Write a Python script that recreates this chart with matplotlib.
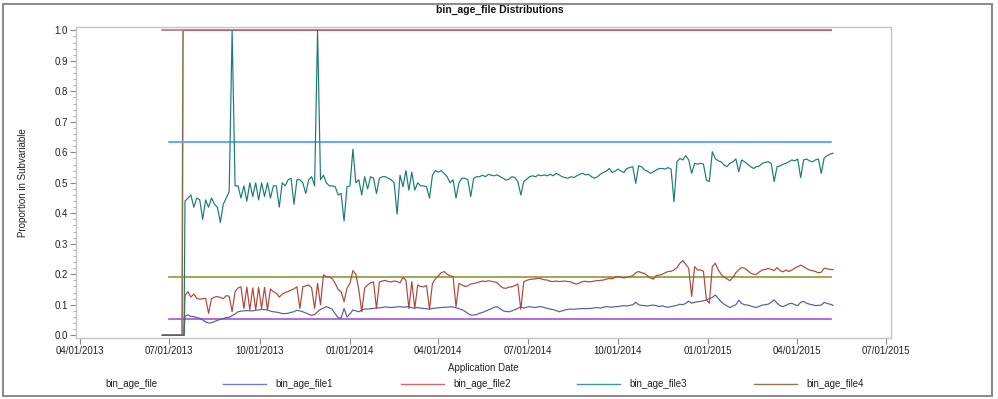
import matplotlib
matplotlib.use("Agg")
import matplotlib.pyplot as plt
import matplotlib.dates as mdates
from matplotlib.lines import Line2D
from matplotlib.patches import Rectangle
from matplotlib.ticker import MultipleLocator, FormatStrFormatter
import pandas as pd

plt.rcParams['font.family'] = ['Liberation Sans', 'DejaVu Sans']

title = "bin_age_file Distributions"
x_label = "Application Date"
y_label = "Proportion in Subvariable"
legend_title = "bin_age_file"
series_names = ["bin_age_file1", "bin_age_file2", "bin_age_file3", "bin_age_file4"]
series_colors = ["#4f5fa3", "#b0463a", "#1a7c70", "#8a6a44"]

tick_dates = ["2013-04-01", "2013-07-01", "2013-10-01", "2014-01-01", "2014-04-01",
              "2014-07-01", "2014-10-01", "2015-01-01", "2015-04-01", "2015-07-01"]
tick_labels = ["04/01/2013", "07/01/2013", "10/01/2013", "01/01/2014", "04/01/2014",
               "07/01/2014", "10/01/2014", "01/01/2015", "04/01/2015", "07/01/2015"]

# zero lead-in before the distributions begin
lead_dates = ["2013-06-24", "2013-07-16"]
lead_values = [0.0, 0.0]

# sampled every 3 days starting here
sample_start = "2013-07-17"
sample_step_days = 3

file1 = [
    0.062, 0.067, 0.062, 0.061, 0.058, 0.056, 0.050, 0.044, 0.040, 0.041,
    0.045, 0.049, 0.052, 0.055, 0.058, 0.059, 0.064, 0.070, 0.077, 0.079,
    0.080, 0.081, 0.080, 0.080, 0.082, 0.083, 0.085, 0.084, 0.083, 0.079,
    0.077, 0.076, 0.074, 0.071, 0.071, 0.072, 0.075, 0.077, 0.082, 0.080,
    0.077, 0.073, 0.069, 0.065, 0.068, 0.077, 0.085, 0.089, 0.094, 0.090,
    0.085, 0.070, 0.058, 0.056, 0.088, 0.060, 0.070, 0.083, 0.080, 0.077,
    0.083, 0.086, 0.086, 0.087, 0.088, 0.089, 0.090, 0.091, 0.093, 0.092,
    0.091, 0.092, 0.093, 0.094, 0.092, 0.093, 0.094, 0.090, 0.089, 0.091,
    0.089, 0.088, 0.087, 0.086, 0.088, 0.089, 0.090, 0.091, 0.092, 0.092,
    0.093, 0.093, 0.090, 0.087, 0.084, 0.079, 0.072, 0.066, 0.066, 0.068,
    0.072, 0.075, 0.079, 0.083, 0.087, 0.092, 0.093, 0.087, 0.080, 0.078,
    0.077, 0.080, 0.084, 0.088, 0.094, 0.089, 0.092, 0.094, 0.092, 0.091,
    0.093, 0.094, 0.091, 0.088, 0.086, 0.084, 0.081, 0.077, 0.080, 0.083,
    0.085, 0.086, 0.085, 0.086, 0.087, 0.088, 0.087, 0.088, 0.088, 0.090,
    0.091, 0.089, 0.092, 0.094, 0.093, 0.092, 0.094, 0.094, 0.096, 0.097,
    0.096, 0.098, 0.100, 0.108, 0.100, 0.098, 0.097, 0.096, 0.098, 0.099,
    0.097, 0.094, 0.097, 0.093, 0.092, 0.094, 0.096, 0.098, 0.102, 0.100,
    0.105, 0.112, 0.105, 0.108, 0.110, 0.111, 0.113, 0.116, 0.120, 0.124,
    0.132, 0.121, 0.110, 0.102, 0.096, 0.091, 0.096, 0.100, 0.115, 0.104,
    0.100, 0.099, 0.096, 0.093, 0.091, 0.095, 0.099, 0.100, 0.102, 0.108,
    0.116, 0.105, 0.097, 0.094, 0.098, 0.103, 0.105, 0.100, 0.097, 0.108,
    0.111, 0.105, 0.102, 0.100, 0.097, 0.098, 0.099, 0.108, 0.104, 0.102,
    0.098,
]

file2 = [
    0.130, 0.143, 0.125, 0.135, 0.121, 0.118, 0.120, 0.121, 0.072, 0.120,
    0.125, 0.127, 0.124, 0.120, 0.130, 0.128, 0.077, 0.143, 0.155, 0.159,
    0.088, 0.158, 0.083, 0.155, 0.083, 0.157, 0.088, 0.157, 0.083, 0.152,
    0.143, 0.138, 0.125, 0.135, 0.140, 0.143, 0.148, 0.152, 0.159, 0.088,
    0.159, 0.162, 0.165, 0.155, 0.088, 0.170, 0.100, 0.198, 0.192, 0.192,
    0.185, 0.170, 0.150, 0.143, 0.110, 0.155, 0.170, 0.212, 0.200, 0.150,
    0.077, 0.155, 0.165, 0.172, 0.175, 0.088, 0.175, 0.178, 0.180, 0.176,
    0.175, 0.178, 0.176, 0.172, 0.190, 0.180, 0.088, 0.176, 0.088, 0.165,
    0.160, 0.159, 0.163, 0.085, 0.170, 0.185, 0.195, 0.205, 0.209, 0.200,
    0.195, 0.192, 0.094, 0.170, 0.165, 0.160, 0.162, 0.168, 0.170, 0.172,
    0.175, 0.178, 0.176, 0.179, 0.177, 0.175, 0.172, 0.162, 0.155, 0.154,
    0.158, 0.159, 0.163, 0.168, 0.085, 0.175, 0.180, 0.183, 0.184, 0.185,
    0.187, 0.185, 0.182, 0.181, 0.177, 0.176, 0.178, 0.176, 0.177, 0.178,
    0.176, 0.175, 0.170, 0.168, 0.172, 0.176, 0.177, 0.175, 0.176, 0.178,
    0.179, 0.180, 0.181, 0.184, 0.186, 0.185, 0.190, 0.193, 0.190, 0.188,
    0.190, 0.193, 0.195, 0.205, 0.209, 0.205, 0.203, 0.195, 0.188, 0.184,
    0.196, 0.197, 0.200, 0.205, 0.209, 0.210, 0.214, 0.222, 0.236, 0.245,
    0.232, 0.220, 0.127, 0.225, 0.214, 0.214, 0.210, 0.116, 0.105, 0.225,
    0.236, 0.215, 0.200, 0.190, 0.185, 0.179, 0.190, 0.205, 0.215, 0.222,
    0.220, 0.212, 0.204, 0.200, 0.200, 0.208, 0.214, 0.216, 0.219, 0.216,
    0.212, 0.222, 0.212, 0.208, 0.214, 0.209, 0.214, 0.220, 0.225, 0.230,
    0.225, 0.219, 0.214, 0.212, 0.209, 0.205, 0.207, 0.220, 0.218, 0.216,
    0.215,
]

file3 = [
    0.440, 0.450, 0.460, 0.420, 0.450, 0.444, 0.380, 0.444, 0.420, 0.450,
    0.430, 0.420, 0.370, 0.430, 0.450, 0.470, 1.000, 0.490, 0.490, 0.450,
    0.490, 0.440, 0.500, 0.455, 0.500, 0.444, 0.500, 0.455, 0.500, 0.450,
    0.490, 0.490, 0.420, 0.500, 0.490, 0.510, 0.515, 0.430, 0.510, 0.510,
    0.500, 0.465, 0.510, 0.520, 0.490, 1.000, 0.510, 0.525, 0.500, 0.490,
    0.490, 0.487, 0.460, 0.465, 0.375, 0.487, 0.490, 0.610, 0.500, 0.510,
    0.460, 0.520, 0.480, 0.520, 0.515, 0.465, 0.515, 0.520, 0.520, 0.515,
    0.510, 0.500, 0.397, 0.525, 0.487, 0.540, 0.476, 0.535, 0.476, 0.500,
    0.490, 0.490, 0.487, 0.450, 0.525, 0.540, 0.535, 0.540, 0.530, 0.520,
    0.500, 0.510, 0.450, 0.500, 0.515, 0.515, 0.510, 0.455, 0.515, 0.520,
    0.520, 0.525, 0.520, 0.528, 0.525, 0.523, 0.526, 0.520, 0.515, 0.509,
    0.512, 0.520, 0.517, 0.504, 0.460, 0.504, 0.512, 0.520, 0.523, 0.520,
    0.526, 0.523, 0.526, 0.523, 0.528, 0.523, 0.531, 0.526, 0.520, 0.517,
    0.515, 0.520, 0.517, 0.523, 0.528, 0.531, 0.526, 0.528, 0.520, 0.515,
    0.520, 0.528, 0.534, 0.538, 0.547, 0.534, 0.538, 0.545, 0.538, 0.534,
    0.547, 0.550, 0.553, 0.498, 0.556, 0.553, 0.542, 0.538, 0.531, 0.536,
    0.542, 0.547, 0.547, 0.545, 0.550, 0.545, 0.438, 0.569, 0.580, 0.575,
    0.589, 0.575, 0.531, 0.564, 0.561, 0.564, 0.561, 0.509, 0.504, 0.602,
    0.580, 0.572, 0.569, 0.558, 0.553, 0.564, 0.569, 0.578, 0.536, 0.575,
    0.569, 0.561, 0.553, 0.547, 0.553, 0.555, 0.564, 0.567, 0.569, 0.564,
    0.504, 0.553, 0.555, 0.561, 0.564, 0.569, 0.575, 0.572, 0.578, 0.517,
    0.575, 0.578, 0.572, 0.569, 0.575, 0.578, 0.531, 0.582, 0.589, 0.594,
    0.597,
]

# bin_age_file4: zero, then a step to 1.0 that holds to the end
file4_dates = ["2013-06-24", "2013-07-14", "2013-07-15", "2015-05-06"]
file4_values = [0.0, 0.0, 1.0, 1.0]

# reference (baseline) levels drawn as flat lines
ref_levels = [1.0, 0.633, 0.19, 0.054]
ref_starts = ["2013-06-24", "2013-07-01", "2013-07-01", "2013-07-01"]
ref_end = "2015-05-06"
ref_colors = ["#B8708E", "#3DA2FA", "#8C9A35", "#A552DD"]

x_min = "2013-03-28"
x_max = "2015-07-06"

# ---------------------------------------------------------------
W, H = 998, 399
fig = plt.figure(figsize=(W / 100, H / 100), dpi=100)
fig.patch.set_facecolor("white")

L, R, T, B = 76, 891, 27, 338
ax = fig.add_axes([L / W, 1 - B / H, (R - L) / W, (B - T) / H])

def build(values):
    d = pd.date_range(sample_start, periods=len(values), freq=f"{sample_step_days}D")
    dates = list(pd.to_datetime(lead_dates)) + list(d)
    vals = list(lead_values) + list(values)
    return dates, vals

# brown series first so the reference line at 1.0 sits on top of it
ax.plot(pd.to_datetime(file4_dates), file4_values, color=series_colors[3], lw=1.1, zorder=2)

for lvl, s, c in zip(ref_levels, ref_starts, ref_colors):
    ax.plot(pd.to_datetime([s, ref_end]), [lvl, lvl], color=c, lw=1.2, zorder=3)

for vals, c in zip([file1, file2, file3], series_colors[:3]):
    d, v = build(vals)
    ax.plot(d, v, color=c, lw=0.85, zorder=4)

ax.set_xlim(mdates.date2num(pd.Timestamp(x_min)), mdates.date2num(pd.Timestamp(x_max)))
ax.set_ylim(-0.009, 1.011)

ax.set_xticks(pd.to_datetime(tick_dates))
ax.set_xticklabels(tick_labels)
ax.yaxis.set_major_locator(MultipleLocator(0.1))
ax.yaxis.set_minor_locator(MultipleLocator(0.02))
ax.yaxis.set_major_formatter(FormatStrFormatter("%.1f"))

for sp in ax.spines.values():
    sp.set_color("#c4c4c4")
    sp.set_linewidth(1.0)

ax.tick_params(axis="both", which="major", length=4, width=0.8, color="#8a8a8a",
               labelsize=7, labelcolor="#222222", pad=2)
ax.tick_params(axis="y", which="minor", length=2, width=0.6, color="#a0a0a0")

ax.set_xlabel(x_label, fontsize=7, color="#222222")
ax.xaxis.set_label_coords(0.5, (B - 363) / (B - T))
ax.xaxis.label.set_va("top")
ax.set_ylabel(y_label, fontsize=7, color="#222222")
ax.yaxis.set_label_coords((28 - L) / (R - L), 0.5)

fig.text(500 / W, 1 - 10 / H, title, ha="center", va="center",
         fontsize=7.5, fontweight="bold", color="#111111")

# legend row
ly = 1 - 384 / H
legend_colors = ["#6e7ec0", "#d06a60", "#3a9a8c", "#9a7650"]
fig.text(131 / W, ly, legend_title, ha="center", va="center", fontsize=7, color="#222222")
leg_line_x = [223, 401, 577, 754]
for name, c, lx in zip(series_names, legend_colors, leg_line_x):
    fig.add_artist(Line2D([lx / W, (lx + 43) / W], [ly, ly], color=c, lw=1.0,
                          transform=fig.transFigure))
    fig.text((lx + 52) / W, ly, name, ha="left", va="center", fontsize=7, color="#222222")

# outer frame
fig.add_artist(Rectangle((3 / W, 3.5 / H), (992 - 3) / W, (395.5 - 3.5) / H,
                         transform=fig.transFigure, fill=False,
                         edgecolor="#8c8c8c", lw=1.5))

fig.savefig("out.png", dpi=100)
